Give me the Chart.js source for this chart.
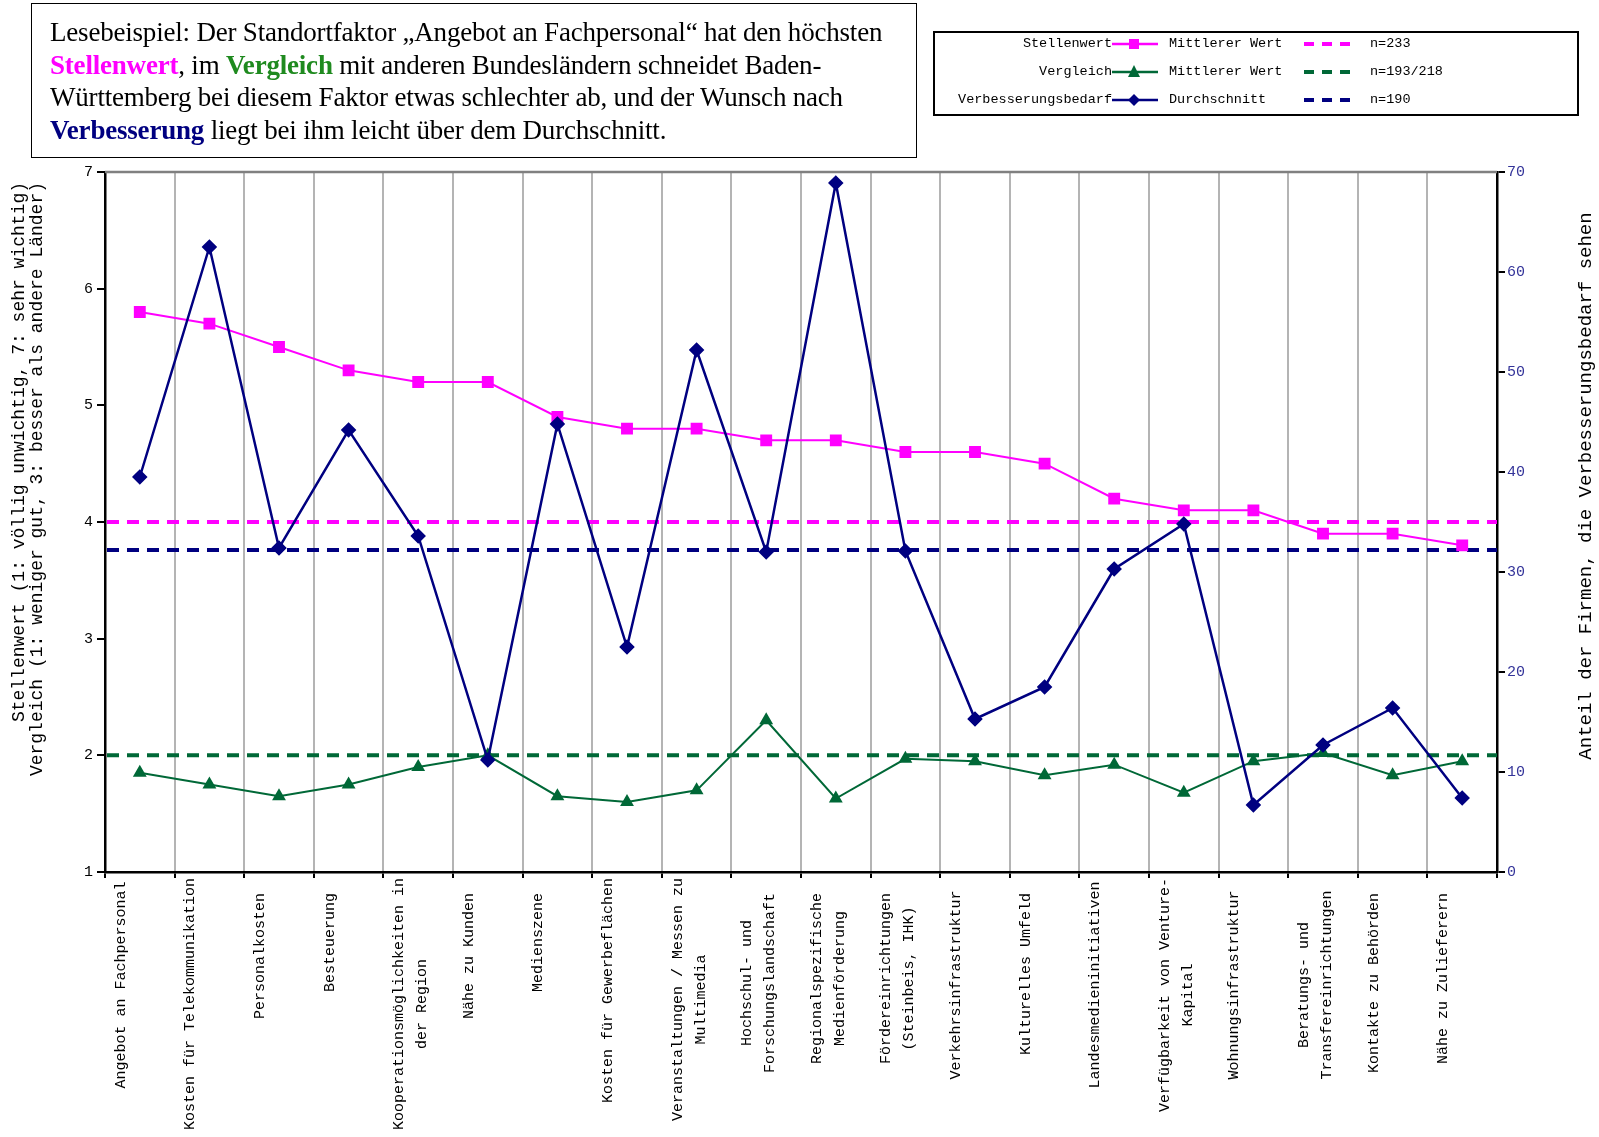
<!DOCTYPE html>
<html>
<head>
<meta charset="utf-8">
<script src="https://cdn.jsdelivr.net/npm/chart.js@4.4.1/dist/chart.umd.min.js"></script>
<style>
  body { margin: 0; background: #fff; }
  #wrap { position: relative; width: 1599px; height: 1137px; }
  #note {
    position: absolute; left: 31px; top: 3px; width: 866px; height: 141px;
    border: 1.5px solid #000; padding: 12px 0 0 18px;
    font: 27px "Liberation Serif", serif; line-height: 32.5px; color: #000;
    white-space: nowrap; letter-spacing: -0.2px;
  }
  #legend {
    position: absolute; left: 933px; top: 31px; width: 642px; height: 81px;
    border: 2px solid #000; font: 13.5px "Liberation Mono", monospace; color: #000;
  }
  .row { position: absolute; left: 0; height: 20px; width: 100%; }
  .row span, .row svg { position: absolute; top: 0; }
  .lab { right: 465px; text-align: right; line-height: 20px; }
</style>
</head>
<body>
<div id="wrap">
  <canvas id="chart" width="1599" height="1137"></canvas>
  <div id="note">
    Lesebeispiel: Der Standortfaktor „Angebot an Fachpersonal“ hat den höchsten<br>
    <b style="color:#ff00ff">Stellenwert</b>, im <b style="color:#1f8a1f">Vergleich</b> mit anderen Bundesländern schneidet Baden-<br>
    Württemberg bei diesem Faktor etwas schlechter ab, und der Wunsch nach<br>
    <b style="color:#000080">Verbesserung</b> liegt bei ihm leicht über dem Durchschnitt.
  </div>
  <div id="legend"></div>
</div>
<script>
// Standortfaktoren (x axis)
const categories = [
  'Angebot an Fachpersonal',
  'Kosten für Telekommunikation',
  'Personalkosten',
  'Besteuerung',
  ['Kooperationsmöglichkeiten in', 'der Region'],
  'Nähe zu Kunden',
  'Medienszene',
  'Kosten für Gewerbeflächen',
  ['Veranstaltungen / Messen zu', 'Multimedia'],
  ['Hochschul- und', 'Forschungslandschaft'],
  ['Regionalspezifische', 'Medienförderung'],
  ['Fördereinrichtungen', '(Steinbeis, IHK)'],
  'Verkehrsinfrastruktur',
  'Kulturelles Umfeld',
  'Landesmedieninitiativen',
  ['Verfügbarkeit von Venture-', 'Kapital'],
  'Wohnungsinfrastruktur',
  ['Beratungs- und', 'Transfereinrichtungen'],
  'Kontakte zu Behörden',
  'Nähe zu Zulieferern'
];

// Stellenwert (left axis, 1..7)
const stellenwert = [5.8, 5.7, 5.5, 5.3, 5.2, 5.2, 4.9, 4.8, 4.8, 4.7,
                     4.7, 4.6, 4.6, 4.5, 4.2, 4.1, 4.1, 3.9, 3.9, 3.8];
// Vergleich (left axis)
const vergleich = [1.85, 1.75, 1.65, 1.75, 1.9, 2.0, 1.65, 1.6, 1.7, 2.3,
                   1.63, 1.97, 1.95, 1.83, 1.92, 1.68, 1.95, 2.02, 1.83, 1.95];
// Verbesserungsbedarf in % (right axis)
const verbesserung = [39.5, 62.5, 32.4, 44.2, 33.6, 11.2, 44.8, 22.5, 52.2, 32.0,
                      68.9, 32.1, 15.3, 18.5, 30.3, 34.8, 6.7, 12.7, 16.4, 7.4];

// reference lines: [value, axis]
const meanStellenwert = [4.0, 'y'];
const meanVergleich = [2.0, 'y'];
const meanVerbesserung = [32.2, 'y1'];

const leftTicks = [1, 7, 1];     // min, max, step
const rightTicks = [0, 70, 10];

const PINK = '#ff00ff', GREEN = '#006837', NAVY = '#000080';
const MONO = '"Liberation Mono", "DejaVu Sans Mono", monospace';

// legend (html)
const legendRows = [
  ['Stellenwert', PINK, 'rect', 'Mittlerer Wert', 'n=233'],
  ['Vergleich', GREEN, 'tri', 'Mittlerer Wert', 'n=193/218'],
  ['Verbesserungsbedarf', NAVY, 'dia', 'Durchschnitt', 'n=190']
];
const legend = document.getElementById('legend');
legendRows.forEach((r, i) => {
  const [name, col, shape, what, n] = r;
  let mark = '';
  if (shape === 'rect') mark = `<rect x="17" y="5" width="10" height="10" fill="${col}"/>`;
  if (shape === 'tri') mark = `<polygon points="22,3 28,15 16,15" fill="${col}"/>`;
  if (shape === 'dia') mark = `<polygon points="22,4 28,10 22,16 16,10" fill="${col}"/>`;
  const row = document.createElement('div');
  row.className = 'row';
  row.style.top = (i * 28 + 1) + 'px';
  row.innerHTML = `
    <span class="lab">${name}</span>
    <svg style="left:177px" width="46" height="20"><line x1="0" y1="10" x2="46" y2="10" stroke="${col}" stroke-width="2.5"/>${mark}</svg>
    <span style="left:234px;line-height:20px">${what}</span>
    <svg style="left:369px" width="46" height="20"><line x1="0" y1="10" x2="46" y2="10" stroke="${col}" stroke-width="4" stroke-dasharray="10,8"/></svg>
    <span style="left:435px;line-height:20px">${n}</span>`;
  legend.appendChild(row);
});

// dashed mean lines, top border, axis titles and category labels
const extras = {
  id: 'extras',
  beforeDatasetsDraw(chart) {
    const { ctx, chartArea } = chart;
    ctx.save();
    ctx.strokeStyle = '#808080';
    ctx.lineWidth = 2.5;
    ctx.beginPath();
    ctx.moveTo(chartArea.left, chartArea.top);
    ctx.lineTo(chartArea.right, chartArea.top);
    ctx.stroke();
    [[meanStellenwert, PINK], [meanVerbesserung, NAVY], [meanVergleich, GREEN]].forEach(([m, col]) => {
      const y = chart.scales[m[1]].getPixelForValue(m[0]);
      ctx.strokeStyle = col;
      ctx.lineWidth = 4;
      ctx.setLineDash([12, 8]);
      ctx.beginPath();
      ctx.moveTo(chartArea.left + 2, y);
      ctx.lineTo(chartArea.right, y);
      ctx.stroke();
    });
    ctx.restore();
  },
  afterDraw(chart) {
    const { ctx, chartArea } = chart;
    const x = chart.scales.x;
    ctx.save();
    ctx.fillStyle = '#000';

    // category labels, rotated
    ctx.font = '15px ' + MONO;
    ctx.textAlign = 'center';
    ctx.textBaseline = 'middle';
    categories.forEach((lab, i) => {
      const lines = Array.isArray(lab) ? lab : [lab];
      const cx = x.getPixelForValue(i);
      const maxLen = Math.max(...lines.map(l => ctx.measureText(l).width));
      let cy = Math.min(x.top + 113, x.top + 21 + maxLen / 2);
      cy = Math.max(cy, x.top + 6 + maxLen / 2);
      lines.forEach((l, k) => {
        ctx.save();
        ctx.translate(cx - 19 + 23 * k, cy);
        ctx.rotate(-Math.PI / 2);
        ctx.fillText(l, 0, 0);
        ctx.restore();
      });
    });

    // axis titles
    ctx.font = '18px ' + MONO;
    ctx.textAlign = 'right';
    const leftTitle = ['Stellenwert (1: völlig unwichtig, 7: sehr wichtig)',
                       'Vergleich (1: weniger gut, 3: besser als andere Länder)'];
    leftTitle.forEach((t, k) => {
      ctx.save();
      ctx.translate(19 + 18 * k, chartArea.top + 10);
      ctx.rotate(-Math.PI / 2);
      ctx.fillText(t, 0, 0);
      ctx.restore();
    });
    ctx.font = '19px ' + MONO;
    ctx.textAlign = 'center';
    ctx.save();
    ctx.translate(1586, (chartArea.top + chartArea.bottom) / 2 - 36);
    ctx.rotate(-Math.PI / 2);
    ctx.fillText('Anteil der Firmen, die Verbesserungsbedarf sehen', 0, 0);
    ctx.restore();
    ctx.restore();
  }
};

new Chart(document.getElementById('chart'), {
  type: 'line',
  data: {
    labels: categories.map(c => Array.isArray(c) ? c.join(' ') : c),
    datasets: [
      {
        label: 'Verbesserungsbedarf',
        data: verbesserung,
        yAxisID: 'y1',
        borderColor: NAVY,
        backgroundColor: NAVY,
        borderWidth: 2.5,
        pointStyle: 'rectRot',
        pointRadius: 6,
        tension: 0
      },
      {
        label: 'Stellenwert',
        data: stellenwert,
        yAxisID: 'y',
        borderColor: PINK,
        backgroundColor: PINK,
        borderWidth: 2,
        pointStyle: 'rect',
        pointRadius: 7,
        tension: 0
      },
      {
        label: 'Vergleich',
        data: vergleich,
        yAxisID: 'y',
        borderColor: GREEN,
        backgroundColor: GREEN,
        borderWidth: 2,
        pointStyle: 'triangle',
        pointRadius: 6,
        tension: 0
      }
    ]
  },
  options: {
    responsive: false,
    animation: false,
    layout: { padding: { top: 172, left: 0, right: 0, bottom: 0 } },
    plugins: { legend: { display: false }, tooltip: { enabled: false } },
    scales: {
      x: {
        type: 'category',
        offset: true,
        grid: { offset: true, color: '#b4b4b4', lineWidth: 2, tickLength: 6, tickColor: '#000' },
        border: { color: '#000', width: 2.5 },
        ticks: { display: false },
        afterFit(s) { s.height = 265; }
      },
      y: {
        position: 'left',
        min: leftTicks[0], max: leftTicks[1],
        ticks: { stepSize: leftTicks[2], color: '#000', font: { family: MONO, size: 15 }, padding: 4 },
        grid: { drawOnChartArea: false, tickLength: 8, color: '#000', lineWidth: 2 },
        border: { color: '#000', width: 2.5 },
        afterFit(s) { s.width = 105; }
      },
      y1: {
        position: 'right',
        min: rightTicks[0], max: rightTicks[1],
        ticks: { stepSize: rightTicks[2], color: '#333399', font: { family: MONO, size: 15 }, padding: 2 },
        grid: { drawOnChartArea: false, tickLength: 8, color: '#000', lineWidth: 2 },
        border: { color: '#000', width: 2.5 },
        afterFit(s) { s.width = 102; }
      }
    }
  },
  plugins: [extras]
});
</script>
</body>
</html>
